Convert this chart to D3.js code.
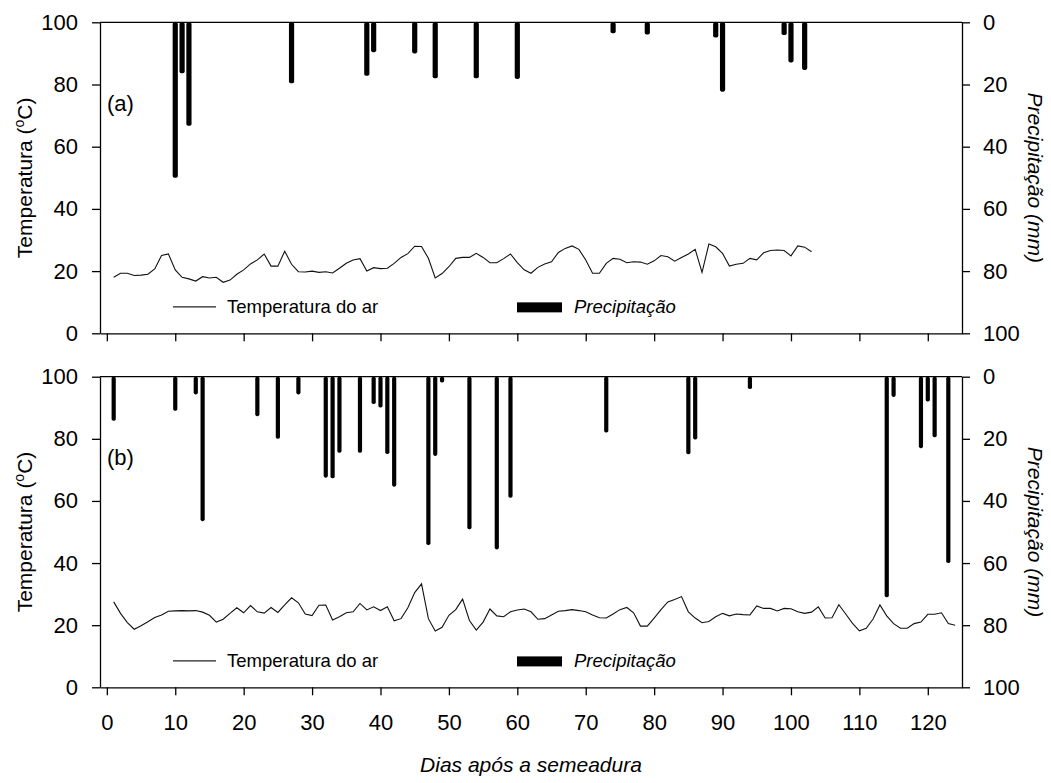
<!DOCTYPE html>
<html>
<head>
<meta charset="utf-8">
<script src="https://cdn.jsdelivr.net/npm/d3@7"></script>
<style>
    body { margin: 0; background: #fff; }
    svg text { font-family: "Liberation Sans", Arial, sans-serif; fill: #000; }
</style>
</head>
<body>
<div id="chart"></div>
<script>
// Panel (a) - daily air temperature, starting on day 1
const tempA = [18.0, 19.3, 19.3, 18.6, 18.7, 19.0, 20.7, 25.0, 25.5, 20.4,
    18.0, 17.5, 16.8, 18.2, 17.8, 18.0, 16.4, 17.1, 19.0, 20.4,
    22.3, 23.6, 25.5, 21.6, 21.6, 26.4, 22.2, 19.8, 19.7, 20.0,
    19.6, 19.8, 19.4, 20.9, 22.5, 23.6, 24.0, 20.0, 21.1, 20.8,
    20.9, 22.5, 24.4, 25.6, 28.0, 27.9, 24.1, 17.8, 19.2, 21.4,
    24.1, 24.4, 24.4, 25.7, 24.4, 22.7, 22.7, 24.0, 25.5, 22.7,
    20.4, 19.3, 21.2, 22.3, 23.0, 26.0, 27.3, 28.1, 27.0, 23.6,
    19.3, 19.3, 22.5, 24.1, 23.8, 22.7, 23.0, 22.9, 22.2, 23.3,
    25.0, 24.6, 23.2, 24.4, 25.5, 27.0, 19.6, 28.7, 27.8, 25.7,
    21.6, 22.2, 22.5, 24.1, 23.6, 25.9, 26.6, 26.8, 26.6, 24.9,
    28.1, 27.7, 26.2];
// Panel (a) - rainfall events (day, mm)
const rainDaysA = [10, 11, 12, 27, 38, 39, 45, 48, 54, 60, 74, 79, 89, 90, 99, 100, 102];
const rainA = [50, 16.4, 33.3, 19.6, 17.2, 9.6, 10, 18, 18, 18.2, 3.5, 3.9, 4.9, 22.3, 4.1, 12.9, 15.3];

// Panel (b)
const tempB = [27.5, 23.8, 20.8, 18.7, 19.8, 21.1, 22.5, 23.3, 24.5, 24.6,
    24.7, 24.6, 24.7, 24.2, 23.2, 21.0, 21.9, 23.8, 25.6, 24.0,
    26.3, 24.3, 23.9, 25.7, 24.1, 26.5, 28.8, 27.2, 23.6, 23.1,
    26.4, 26.5, 21.7, 22.7, 24.0, 24.3, 27.0, 24.9, 25.9, 24.7,
    25.9, 21.4, 22.1, 25.6, 30.5, 33.3, 22.1, 18.1, 19.3, 23.2,
    25.0, 28.4, 21.5, 18.4, 21.0, 25.2, 23.0, 22.7, 24.3, 24.9,
    25.2, 24.3, 21.9, 22.1, 23.3, 24.5, 24.7, 25.0, 24.7, 24.3,
    23.3, 22.4, 22.3, 23.6, 25.0, 25.7, 24.0, 19.7, 19.7, 22.3,
    25.0, 27.5, 28.3, 29.2, 24.3, 22.3, 20.8, 21.2, 22.7, 23.8,
    23.0, 23.6, 23.4, 23.3, 26.2, 25.4, 25.4, 24.6, 25.4, 25.3,
    24.3, 23.8, 24.2, 25.9, 22.3, 22.4, 26.6, 23.6, 20.6, 18.2,
    19.0, 22.0, 26.5, 23.0, 20.5, 19.0, 19.0, 20.5, 21.0, 23.5,
    23.5, 24.0, 20.5, 20.0];
const rainDaysB = [1, 10, 13, 14, 22, 25, 28, 32, 33, 34, 37, 39, 40, 41, 42, 47, 48, 49,
    53, 57, 59, 73, 85, 86, 94, 114, 115, 119, 120, 121, 123];
const rainB = [14.2, 11, 5.7, 46.5, 12.7, 20, 5.7, 32.5, 32.7, 24.5, 24.5, 8.8, 9.9, 24.9, 35.4, 54.2, 25.5, 1.9,
    49.1, 55.6, 39, 18, 25, 20.2, 4, 71, 6.5, 23, 8, 19.5, 60];

const xTicks = [0, 10, 20, 30, 40, 50, 60, 70, 80, 90, 100, 110, 120];
const yTicks = [0, 20, 40, 60, 80, 100];

const width = 1051, height = 783;
const left = 100, right = 962;

const svg = d3.select("#chart")
    .append("svg")
    .attr("width", width)
    .attr("height", height);

const x = d3.scaleLinear().domain([-1, 125]).range([left, right]);

function panel(top, bottom, temp, rainDays, rain, label, showX, barW) {
    const yT = d3.scaleLinear().domain([0, 100]).range([bottom, top]);
    const yP = d3.scaleLinear().domain([0, 100]).range([top, bottom]);
    const g = svg.append("g");

    // Rain bars hanging from the top
    g.selectAll("rect.bar")
        .data(rainDays.map((d, i) => ({ day: d, mm: rain[i] })))
        .join("rect")
        .attr("class", "bar")
        .attr("x", d => x(d.day) - barW / 2)
        .attr("y", yP(0))
        .attr("width", barW)
        .attr("height", d => yP(d.mm) - yP(0))
        .attr("rx", 1.8)
        .style("fill", "#000");

    // Temperature line
    const line = d3.line()
        .x((d, i) => x(i + 1))
        .y(d => yT(d));
    g.append("path")
        .datum(temp)
        .attr("d", line)
        .style("fill", "none")
        .style("stroke", "#111")
        .style("stroke-width", 1.1);

    // Axes
    const axL = d3.axisLeft(yT).tickValues(yTicks).tickSize(8).tickSizeOuter(0).tickPadding(14);
    const axR = d3.axisRight(yP).tickValues(yTicks).tickSize(8).tickSizeOuter(0).tickPadding(13);
    const axB = d3.axisBottom(x).tickValues(xTicks).tickSize(8).tickSizeOuter(0).tickPadding(19);
    if (!showX) axB.tickFormat("");

    [[axL, `translate(${left},0)`], [axR, `translate(${right},0)`], [axB, `translate(0,${bottom})`]]
        .forEach(([ax, tr]) => {
            const a = g.append("g").attr("transform", tr).call(ax);
            a.selectAll("path, line").style("stroke", "#000").style("stroke-width", 1.3);
            a.selectAll("text").style("font-size", "22px").style("fill", "#000");
        });

    // top frame line
    g.append("line")
        .attr("x1", left).attr("x2", right)
        .attr("y1", top).attr("y2", top)
        .style("stroke", "#000").style("stroke-width", 1.3);

    // panel letter
    g.append("text")
        .attr("x", 107)
        .attr("y", yT(71.5))
        .text(label)
        .style("font-size", "22px");

    // Axis titles
    const mid = (top + bottom) / 2;
    const tl = g.append("text")
        .attr("transform", `translate(32,${mid}) rotate(-90)`)
        .attr("text-anchor", "middle")
        .style("font-size", "21px");
    tl.append("tspan").text("Temperatura (");
    tl.append("tspan").text("o").attr("dy", -8).style("font-size", "14px");
    tl.append("tspan").text("C)").attr("dy", 8);

    g.append("text")
        .attr("transform", `translate(1028,${mid}) rotate(90)`)
        .attr("text-anchor", "middle")
        .text("Precipitação (mm)")
        .style("font-size", "21px")
        .style("font-style", "italic");

    // Legend
    const ly = yT(8.5);
    g.append("line")
        .attr("x1", 173).attr("x2", 216)
        .attr("y1", ly).attr("y2", ly)
        .style("stroke", "#222").style("stroke-width", 1.1);
    g.append("text")
        .attr("x", 227).attr("y", ly + 6.5)
        .text("Temperatura do ar")
        .style("font-size", "18.5px");
    g.append("rect")
        .attr("x", 517).attr("y", ly - 4.5)
        .attr("width", 45).attr("height", 10)
        .style("fill", "#000");
    g.append("text")
        .attr("x", 574).attr("y", ly + 6.5)
        .text("Precipitação")
        .style("font-size", "18.5px")
        .style("font-style", "italic");
}

panel(22.3, 333.3, tempA, rainDaysA, rainA, "(a)", false, 5.2);
panel(376.7, 687.3, tempB, rainDaysB, rainB, "(b)", true, 4.2);

svg.append("text")
    .attr("x", (left + right) / 2)
    .attr("y", 772)
    .attr("text-anchor", "middle")
    .text("Dias após a semeadura")
    .style("font-size", "21px")
    .style("font-style", "italic");
</script>
</body>
</html>
